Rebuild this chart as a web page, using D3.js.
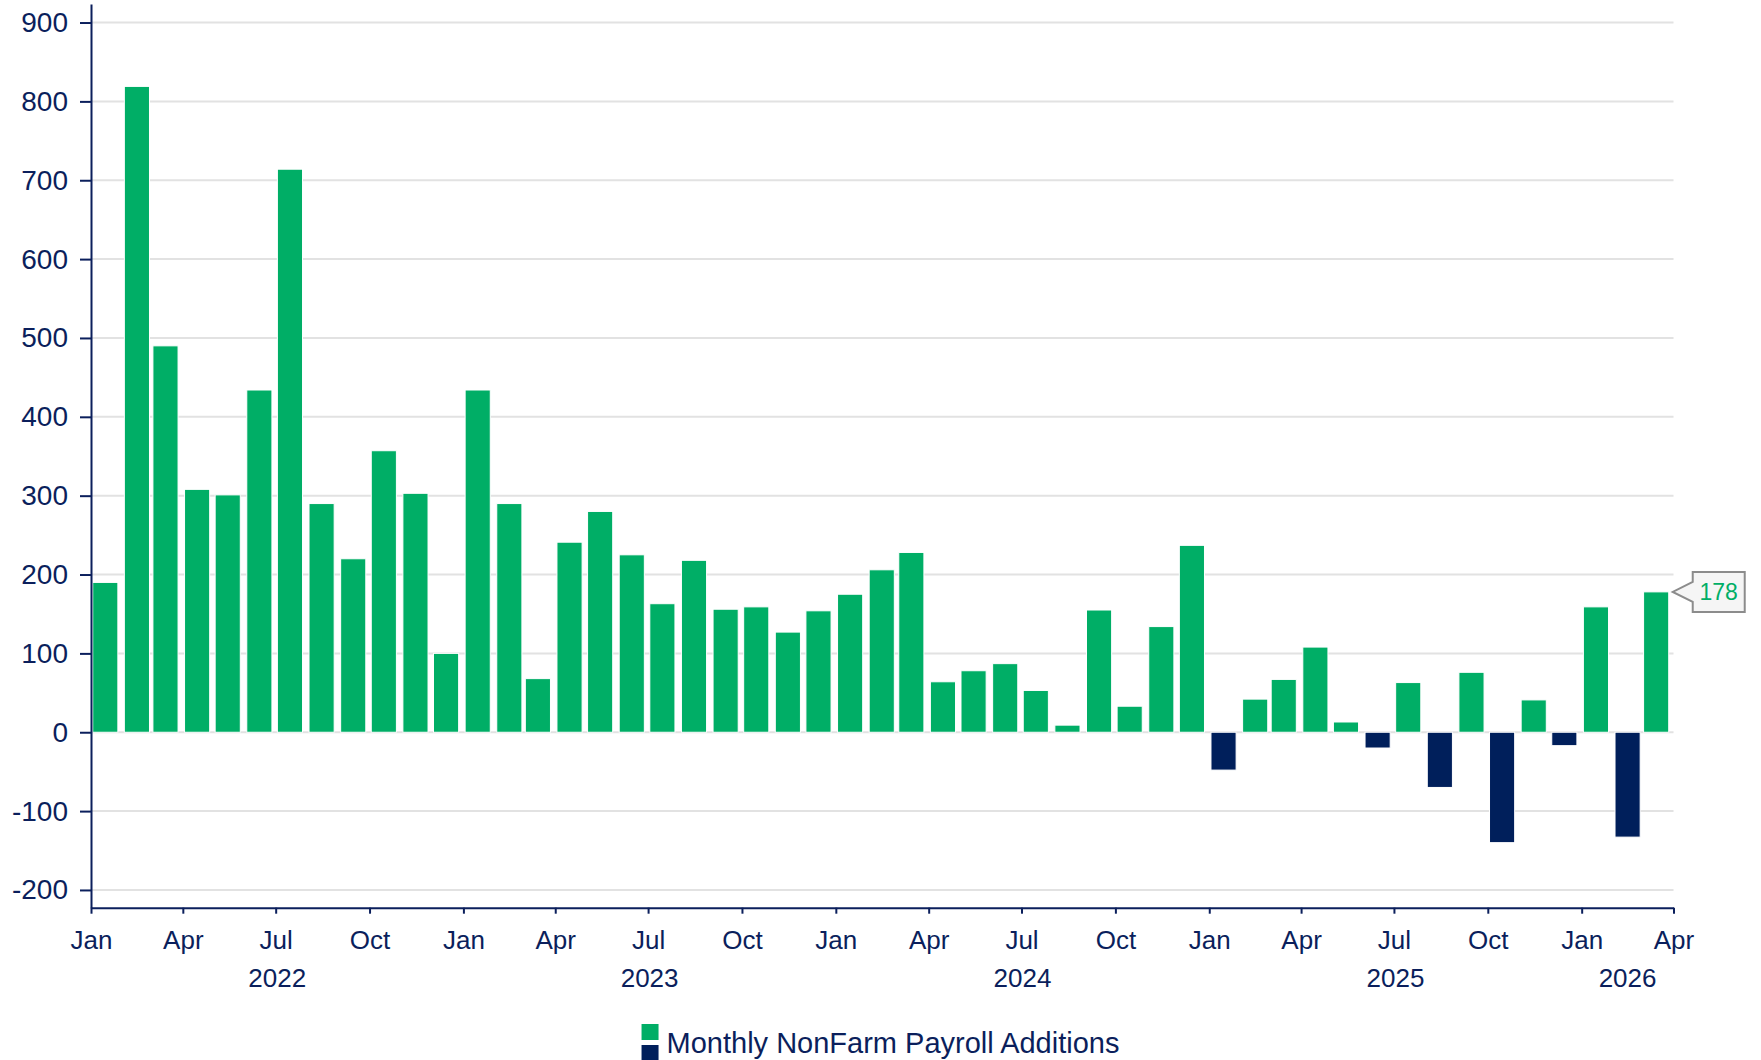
<!DOCTYPE html>
<html>
<head>
<meta charset="utf-8">
<script src="https://cdn.jsdelivr.net/npm/d3@7"></script>
<style>
  body { margin: 0; background: #fff; }
  svg { display: block; font-family: "Liberation Sans", Arial, sans-serif; }
</style>
</head>
<body>
<svg id="chart" width="1761" height="1060"></svg>
<script>
// monthly payroll changes, thousands
const months = [
  "2022-01", "2022-02", "2022-03", "2022-04", "2022-05", "2022-06",
  "2022-07", "2022-08", "2022-09", "2022-10", "2022-11", "2022-12",
  "2023-01", "2023-02", "2023-03", "2023-04", "2023-05", "2023-06",
  "2023-07", "2023-08", "2023-09", "2023-10", "2023-11", "2023-12",
  "2024-01", "2024-02", "2024-03", "2024-04", "2024-05", "2024-06",
  "2024-07", "2024-08", "2024-09", "2024-10", "2024-11", "2024-12",
  "2025-01", "2025-02", "2025-03", "2025-04", "2025-05", "2025-06",
  "2025-07", "2025-08", "2025-09", "2025-10", "2025-11", "2025-12",
  "2026-01", "2026-02", "2026-03"
];
const payrolls = [
  190, 819, 490, 308, 301, 434, 714, 290, 220, 357, 303, 100,
  434, 290, 68, 241, 280, 225, 163, 218, 156, 159, 127, 154,
  175, 206, 228, 64, 78, 87, 53, 9, 155, 33, 134, 237,
  -48, 42, 67, 108, 13, -20, 63, -70, 76, -140, 41, -17,
  159, -133, 178
];
const monthTickLabels = ["Jan", "Apr", "Jul", "Oct"];
const yearLabels = ["2022", "2023", "2024", "2025", "2026"];
const yTicks = [-200, -100, 0, 100, 200, 300, 400, 500, 600, 700, 800, 900];
const seriesName = "Monthly NonFarm Payroll Additions";

const green = "#00ae66";
const navy = "#001f5b";
const ink = "#0b1f5c";
const gridColor = "#e2e2e2";

const svg = d3.select("#chart");
const parse = d3.timeParse("%Y-%m");
const data = months.map((m, i) => ({ date: parse(m), value: payrolls[i] }));

const x = d3.scaleTime()
  .domain([parse("2022-01"), parse("2026-04")])
  .range([91, 1673.5]);
const y = d3.scaleLinear()
  .domain([-222.5, 923.5])
  .range([907.7, 4]);

// gridlines
svg.append("g")
  .selectAll("line")
  .data(yTicks)
  .join("line")
  .attr("x1", x.range()[0])
  .attr("x2", x.range()[1])
  .attr("y1", d => y(d))
  .attr("y2", d => y(d))
  .attr("stroke", gridColor)
  .attr("stroke-width", 2);

// bars centred on mid month, width from the shortest month
const barW = (x(parse("2022-03")) - x(parse("2022-02"))) * 0.88;
const mid = d => x(d3.timeDay.offset(d.date, 14));

svg.append("g")
  .selectAll("rect")
  .data(data)
  .join("rect")
  .attr("x", d => mid(d) - barW / 2)
  .attr("width", barW)
  .attr("y", d => (d.value >= 0 ? y(d.value) : y(0)))
  .attr("height", d => Math.abs(y(d.value) - y(0)))
  .attr("fill", d => (d.value >= 0 ? green : navy))
  .attr("stroke", "#fff")
  .attr("stroke-width", 1);

// y axis
const yAxis = svg.append("g")
  .attr("transform", `translate(${x.range()[0]},0)`)
  .call(
    d3.axisLeft(y)
      .tickValues(yTicks)
      .tickFormat(d => String(d))
      .tickSize(11)
      .tickPadding(12)
      .tickSizeOuter(0)
  );

// x axis
const quarterTicks = d3.timeMonth.every(3).range(x.domain()[0], d3.timeDay.offset(x.domain()[1], 1));
const xAxis = svg.append("g")
  .attr("transform", `translate(0,${y.range()[0]})`)
  .call(
    d3.axisBottom(x)
      .tickValues(quarterTicks)
      .tickFormat(d => monthTickLabels[Math.floor(d.getMonth() / 3)])
      .tickSize(6)
      .tickPadding(17)
      .tickSizeOuter(0)
  );

[yAxis, xAxis].forEach(g => {
  g.attr("font-family", null);
  g.select(".domain").attr("stroke", ink).attr("stroke-width", 2);
  g.selectAll(".tick line").attr("stroke", ink).attr("stroke-width", 2);
  g.selectAll(".tick text").attr("fill", ink);
});
yAxis.selectAll(".tick text").attr("font-size", 28);
xAxis.selectAll(".tick text").attr("font-size", 26);

// year labels in the middle of each year's visible span
svg.append("g")
  .selectAll("text")
  .data(yearLabels)
  .join("text")
  .attr("x", d => {
    const a = d3.max([parse(d + "-01"), x.domain()[0]]);
    const b = d3.min([parse((+d + 1) + "-01"), x.domain()[1]]);
    return (x(a) + x(b)) / 2;
  })
  .attr("y", 986.7)
  .attr("text-anchor", "middle")
  .attr("font-size", 26)
  .attr("fill", ink)
  .text(d => d);

// callout on the latest value
const last = data[data.length - 1];
const tipX = mid(last) + barW / 2 + 4;
const tipY = y(last.value);
const boxL = tipX + 20, boxW = 52, boxH = 40;
const boxT = tipY - boxH / 2, boxB = tipY + boxH / 2;
svg.append("path")
  .attr("d", `M${boxL},${boxT}H${boxL + boxW}V${boxB}H${boxL}V${tipY + 10}L${tipX},${tipY}L${boxL},${tipY - 10}Z`)
  .attr("fill", "#f5f5f5")
  .attr("stroke", "#8c8c8c")
  .attr("stroke-width", 2);
svg.append("text")
  .attr("x", boxL + boxW / 2)
  .attr("y", tipY)
  .attr("dy", "0.35em")
  .attr("text-anchor", "middle")
  .attr("font-size", 23)
  .attr("fill", green)
  .text(last.value);

// legend
const legend = svg.append("g");
legend.append("rect").attr("width", 17).attr("height", 16).attr("fill", green);
legend.append("rect").attr("y", 21).attr("width", 17).attr("height", 16).attr("fill", navy);
legend.append("text")
  .attr("x", 25)
  .attr("y", 29)
  .attr("font-size", 29)
  .attr("fill", ink)
  .text(seriesName);
const lb = legend.node().getBBox();
legend.attr("transform", `translate(${(1761 - lb.width) / 2},1024)`);
</script>
</body>
</html>
